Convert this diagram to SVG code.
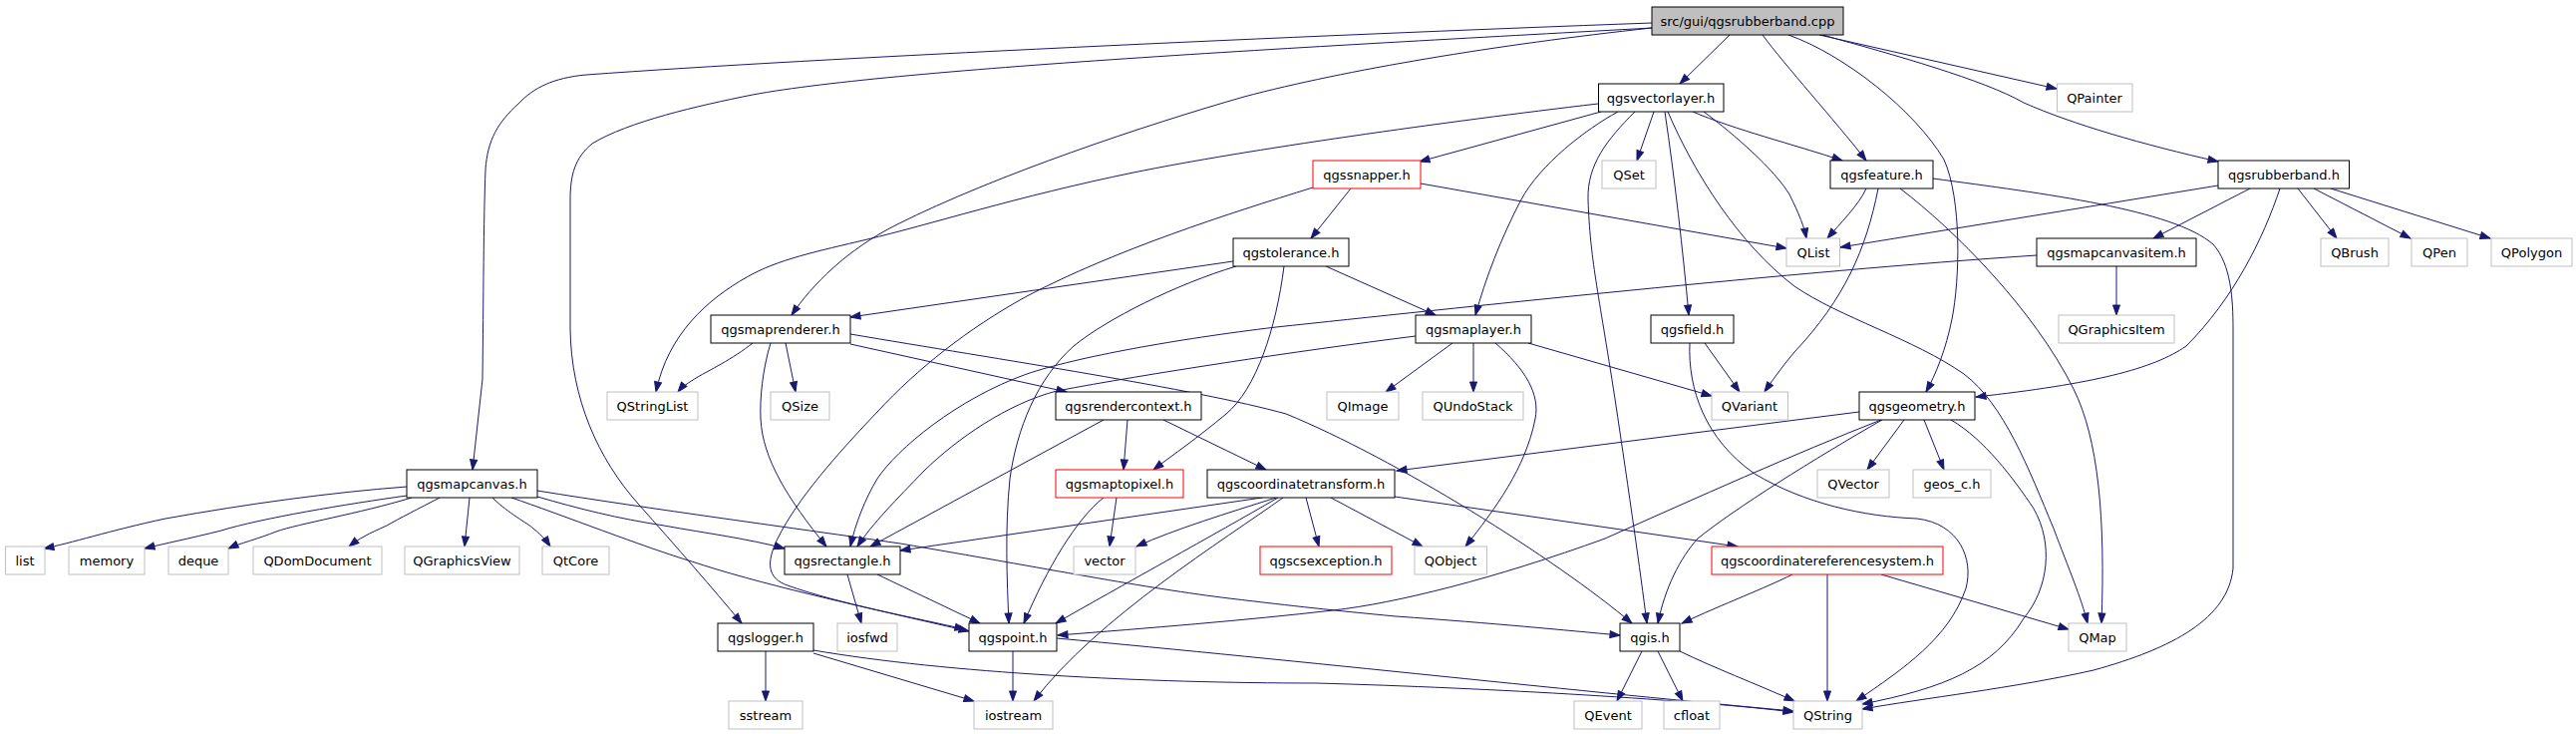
<svg xmlns="http://www.w3.org/2000/svg" width="2584" height="736" viewBox="0 0 2584 736">
<style>
.n rect{fill:#fff;stroke:#000;stroke-width:1}
.n.g rect{stroke:#bfbfbf}
.n.r rect{stroke:#ff0000}
.n.root rect{fill:#bfbfbf}
.n text{font-family:"DejaVu Sans","Liberation Sans",sans-serif;font-size:13px;text-anchor:middle;fill:#000}
#edges path{fill:none;stroke:#191970;stroke-width:1;marker-end:url(#a)}
</style>
<defs>
<marker id="a" markerUnits="userSpaceOnUse" markerWidth="11" markerHeight="8" refX="10" refY="3.5" orient="auto" overflow="visible">
<path d="M0,0 L10,3.5 L0,7 z" fill="#191970" stroke="#191970" stroke-width="1"/>
</marker>
</defs>
<rect width="2584" height="736" fill="#fff"/>
<g id="edges">
<path d="M1657,23 C1300,36 820,58 588,75 C555,78 535,88 520,104 C500,122 489,140 487,170 C485,220 485,300 484,380 L474,471"/>
<path d="M1657,28 C1350,45 900,68 755,95 C700,106 630,122 594,144 C577,158 572,175 572,200 L572,330 C573,400 600,460 640,505 C680,550 715,590 744,625"/>
<path d="M1657,28 C1500,45 1350,70 1248,97 C1150,125 1000,175 900,225 C850,250 815,285 794,316"/>
<path d="M1735,35 L1685,84"/>
<path d="M1768,35 C1790,65 1840,120 1872,161"/>
<path d="M1794,35 C1850,55 1920,110 1950,160 C1968,200 1966,280 1958,320 C1952,350 1942,375 1932,393"/>
<path d="M1825,35 L2063,89"/>
<path d="M1828,35 C1900,55 1990,80 2030,103 C2080,125 2150,145 2225,162"/>
<path d="M1603,104 C1450,122 1250,150 1137,173 C1020,197 930,226 870,240 C820,252 780,260 749,278 C710,300 670,335 658,393"/>
<path d="M1606,112 L1424,162"/>
<path d="M1623,112 C1590,130 1545,165 1526,200 C1505,240 1490,280 1480,316"/>
<path d="M1640,112 C1612,140 1592,165 1593,200 C1595,260 1603,290 1620,400 C1635,500 1645,570 1652,625"/>
<path d="M1659,112 L1642,161"/>
<path d="M1670,112 C1680,180 1688,250 1694,316"/>
<path d="M1673,112 C1700,175 1745,245 1800,287 C1845,318 1920,340 1970,375 C2010,405 2035,470 2060,530 C2075,570 2088,600 2094,625"/>
<path d="M1698,112 C1740,130 1800,145 1848,161"/>
<path d="M1709,112 C1740,135 1780,170 1795,195 C1805,215 1810,228 1812,239"/>
<path d="M1355,189 L1315,239"/>
<path d="M1425,184 L1792,249"/>
<path d="M1317,188 C1230,215 1120,250 1030,297 C970,330 920,370 880,413 C840,455 800,500 780,540 C768,565 770,580 790,587 C840,605 920,620 968,631"/>
<path d="M1237,262 L853,318"/>
<path d="M1330,267 L1440,316"/>
<path d="M1288,267 C1280,330 1260,390 1230,415 C1200,440 1178,455 1157,471"/>
<path d="M1240,267 C1180,285 1110,320 1077,347 C1040,380 1020,430 1013,480 C1008,530 1010,580 1012,625"/>
<path d="M755,344 C735,360 710,372 700,378 C690,384 684,388 680,393"/>
<path d="M788,344 L798,393"/>
<path d="M773,344 C765,370 762,400 763,420 C765,460 790,500 829,548"/>
<path d="M853,345 L1070,393"/>
<path d="M853,335 C1000,360 1200,390 1290,415 C1400,460 1560,560 1637,625"/>
<path d="M1420,337 C1300,352 1150,375 1060,392 C1010,405 960,440 927,472 C900,500 875,525 860,548"/>
<path d="M1457,344 L1390,393"/>
<path d="M1478,344 L1478,393"/>
<path d="M1500,344 C1530,370 1545,395 1540,420 C1530,470 1500,510 1470,548"/>
<path d="M1533,344 L1717,397"/>
<path d="M1710,344 L1745,393"/>
<path d="M1695,344 C1693,390 1710,440 1760,475 C1810,505 1870,518 1923,520 C1965,525 1980,560 1972,590 C1955,640 1910,670 1862,703"/>
<path d="M1872,189 C1865,205 1845,225 1833,239"/>
<path d="M1884,189 C1872,250 1850,300 1800,353 C1790,365 1780,378 1770,393"/>
<path d="M1906,189 C1960,230 2040,310 2080,390 C2105,440 2112,520 2108,625"/>
<path d="M1939,179 C2050,194 2180,210 2220,245 C2238,265 2240,300 2240,330 L2240,570 C2235,620 2180,650 2100,672 C2020,690 1930,700 1868,711"/>
<path d="M2225,186 L1846,248"/>
<path d="M2257,189 L2160,239"/>
<path d="M2287,189 C2270,240 2240,300 2193,347 C2160,370 2100,385 1982,398"/>
<path d="M2305,189 L2344,239"/>
<path d="M2321,189 L2418,239"/>
<path d="M2338,189 L2498,239"/>
<path d="M2123,267 L2123,316"/>
<path d="M2043,256 C1800,272 1450,310 1280,328 C1180,340 1080,358 1030,375 C960,400 900,450 880,480 C868,500 858,525 853,548"/>
<path d="M1131,421 L1127,471"/>
<path d="M1167,421 L1270,471"/>
<path d="M1107,421 L873,548"/>
<path d="M1120,499 L1113,548"/>
<path d="M1107,499 C1080,520 1050,570 1027,625"/>
<path d="M1266,499 L903,552"/>
<path d="M1280,499 C1230,515 1180,530 1140,548"/>
<path d="M1310,499 L1323,548"/>
<path d="M1335,499 L1427,548"/>
<path d="M1282,499 C1220,535 1120,590 1059,625"/>
<path d="M1287,499 C1230,540 1100,620 1037,703"/>
<path d="M1399,498 L1743,548"/>
<path d="M1865,413 L1401,472"/>
<path d="M1910,421 L1873,471"/>
<path d="M1930,421 L1950,471"/>
<path d="M1888,421 C1820,460 1740,510 1703,540 C1685,560 1670,590 1663,625"/>
<path d="M1887,421 C1800,455 1700,500 1610,540 C1500,580 1400,605 1337,612 C1250,622 1150,630 1061,637"/>
<path d="M1957,421 C1990,440 2020,480 2040,510 C2060,545 2055,590 2030,620 C2000,670 1950,690 1868,706"/>
<path d="M1798,576 C1770,590 1730,605 1687,625"/>
<path d="M1833,576 L1833,703"/>
<path d="M1887,576 L2075,631"/>
<path d="M408,488 C330,494 250,505 166,520 C110,532 70,545 44,550"/>
<path d="M408,497 C350,505 260,520 222,532 C190,540 165,545 145,550"/>
<path d="M413,499 C360,515 300,525 277,533 C260,540 240,545 229,550"/>
<path d="M441,499 C420,510 400,520 388,527 C370,535 360,540 350,548"/>
<path d="M471,499 L466,548"/>
<path d="M494,499 C510,515 530,525 535,530 C545,538 550,545 552,548"/>
<path d="M539,498 C580,510 620,520 666,527 C710,535 750,540 787,550"/>
<path d="M513,499 C560,515 650,550 694,563 C760,585 850,605 972,633"/>
<path d="M539,492 C650,510 800,530 903,545 C1050,570 1150,590 1233,600 C1300,608 1337,612 1400,618 C1500,625 1570,632 1625,637"/>
<path d="M850,576 L864,625"/>
<path d="M880,576 L983,625"/>
<path d="M768,653 L768,703"/>
<path d="M816,655 L977,703"/>
<path d="M816,652 C950,675 1150,685 1320,685 C1500,690 1700,702 1799,714"/>
<path d="M1016,653 L1016,703"/>
<path d="M1060,640 C1300,662 1600,695 1799,713"/>
<path d="M1647,653 L1622,703"/>
<path d="M1663,653 L1688,703"/>
<path d="M1685,653 C1720,670 1760,685 1800,703"/>
</g>
<g id="n-root" class="n root"><rect x="1657" y="7" width="192" height="28"/><text x="1753" y="26">src/gui/qgsrubberband.cpp</text></g>
<g id="n-qgsvectorlayer" class="n"><rect x="1603.5" y="84" width="125.5" height="28"/><text x="1666" y="103">qgsvectorlayer.h</text></g>
<g id="n-QPainter" class="n g"><rect x="2063.5" y="84" width="75.5" height="28"/><text x="2101" y="103">QPainter</text></g>
<g id="n-qgssnapper" class="n r"><rect x="1317" y="161" width="108" height="28"/><text x="1371" y="180">qgssnapper.h</text></g>
<g id="n-QSet" class="n g"><rect x="1607" y="161" width="54" height="28"/><text x="1634" y="180">QSet</text></g>
<g id="n-qgsfeature" class="n"><rect x="1836" y="161" width="103" height="28"/><text x="1887.5" y="180">qgsfeature.h</text></g>
<g id="n-qgsrubberband" class="n"><rect x="2225" y="161" width="131.5" height="28"/><text x="2291" y="180">qgsrubberband.h</text></g>
<g id="n-qgstolerance" class="n"><rect x="1237" y="239" width="116" height="28"/><text x="1295" y="258">qgstolerance.h</text></g>
<g id="n-QList" class="n g"><rect x="1792" y="239" width="53.5" height="28"/><text x="1819" y="258">QList</text></g>
<g id="n-qgsmapcanvasitem" class="n"><rect x="2043" y="239" width="160" height="28"/><text x="2123" y="258">qgsmapcanvasitem.h</text></g>
<g id="n-QBrush" class="n g"><rect x="2328" y="239" width="68" height="28"/><text x="2362" y="258">QBrush</text></g>
<g id="n-QPen" class="n g"><rect x="2419" y="239" width="56" height="28"/><text x="2447" y="258">QPen</text></g>
<g id="n-QPolygon" class="n g"><rect x="2499" y="239" width="81" height="28"/><text x="2539.5" y="258">QPolygon</text></g>
<g id="n-qgsmaprenderer" class="n"><rect x="713" y="316" width="140" height="28"/><text x="783" y="335">qgsmaprenderer.h</text></g>
<g id="n-qgsmaplayer" class="n"><rect x="1420" y="316" width="116" height="28"/><text x="1478" y="335">qgsmaplayer.h</text></g>
<g id="n-qgsfield" class="n"><rect x="1656" y="316" width="83" height="28"/><text x="1697.5" y="335">qgsfield.h</text></g>
<g id="n-QGraphicsItem" class="n g"><rect x="2065" y="316" width="116" height="28"/><text x="2123" y="335">QGraphicsItem</text></g>
<g id="n-QStringList" class="n g"><rect x="609" y="393" width="91" height="28"/><text x="654.5" y="412">QStringList</text></g>
<g id="n-QSize" class="n g"><rect x="773" y="393" width="59" height="28"/><text x="802.5" y="412">QSize</text></g>
<g id="n-qgsrendercontext" class="n"><rect x="1059" y="393" width="146" height="28"/><text x="1132" y="412">qgsrendercontext.h</text></g>
<g id="n-QImage" class="n g"><rect x="1331" y="393" width="72" height="28"/><text x="1367" y="412">QImage</text></g>
<g id="n-QUndoStack" class="n g"><rect x="1427" y="393" width="101" height="28"/><text x="1477.5" y="412">QUndoStack</text></g>
<g id="n-QVariant" class="n g"><rect x="1717" y="393" width="76.5" height="28"/><text x="1755" y="412">QVariant</text></g>
<g id="n-qgsgeometry" class="n"><rect x="1865" y="393" width="116" height="28"/><text x="1923" y="412">qgsgeometry.h</text></g>
<g id="n-qgsmapcanvas" class="n"><rect x="408" y="471" width="131" height="28"/><text x="473.5" y="490">qgsmapcanvas.h</text></g>
<g id="n-qgsmaptopixel" class="n r"><rect x="1059" y="471" width="128" height="28"/><text x="1123" y="490">qgsmaptopixel.h</text></g>
<g id="n-qgscoordinatetransform" class="n"><rect x="1211" y="471" width="188" height="28"/><text x="1305" y="490">qgscoordinatetransform.h</text></g>
<g id="n-QVector" class="n g"><rect x="1823" y="471" width="72" height="28"/><text x="1859" y="490">QVector</text></g>
<g id="n-geos_c" class="n g"><rect x="1919" y="471" width="78" height="28"/><text x="1958" y="490">geos_c.h</text></g>
<g id="n-list" class="n g"><rect x="5.5" y="548" width="39.5" height="28"/><text x="25" y="567">list</text></g>
<g id="n-memory" class="n g"><rect x="69" y="548" width="76" height="28"/><text x="107" y="567">memory</text></g>
<g id="n-deque" class="n g"><rect x="169" y="548" width="60" height="28"/><text x="199" y="567">deque</text></g>
<g id="n-QDomDocument" class="n g"><rect x="254" y="548" width="129" height="28"/><text x="318.5" y="567">QDomDocument</text></g>
<g id="n-QGraphicsView" class="n g"><rect x="406" y="548" width="115" height="28"/><text x="463.5" y="567">QGraphicsView</text></g>
<g id="n-QtCore" class="n g"><rect x="544" y="548" width="67" height="28"/><text x="577.5" y="567">QtCore</text></g>
<g id="n-qgsrectangle" class="n"><rect x="787" y="548" width="116" height="28"/><text x="845" y="567">qgsrectangle.h</text></g>
<g id="n-vector" class="n g"><rect x="1077" y="548" width="62" height="28"/><text x="1108" y="567">vector</text></g>
<g id="n-qgscsexception" class="n r"><rect x="1264" y="548" width="132" height="28"/><text x="1330" y="567">qgscsexception.h</text></g>
<g id="n-QObject" class="n g"><rect x="1419" y="548" width="72.5" height="28"/><text x="1455" y="567">QObject</text></g>
<g id="n-qgscoordinatereferencesystem" class="n r"><rect x="1717" y="548" width="232" height="28"/><text x="1833" y="567">qgscoordinatereferencesystem.h</text></g>
<g id="n-qgslogger" class="n"><rect x="720" y="625" width="96" height="28"/><text x="768" y="644">qgslogger.h</text></g>
<g id="n-iosfwd" class="n g"><rect x="840" y="625" width="60" height="28"/><text x="870" y="644">iosfwd</text></g>
<g id="n-qgspoint" class="n"><rect x="972" y="625" width="88" height="28"/><text x="1016" y="644">qgspoint.h</text></g>
<g id="n-qgis" class="n"><rect x="1625" y="625" width="60" height="28"/><text x="1655" y="644">qgis.h</text></g>
<g id="n-QMap" class="n g"><rect x="2075" y="625" width="58" height="28"/><text x="2104" y="644">QMap</text></g>
<g id="n-sstream" class="n g"><rect x="731" y="703" width="74" height="28"/><text x="768" y="722">sstream</text></g>
<g id="n-iostream" class="n g"><rect x="977" y="703" width="79" height="28"/><text x="1016.5" y="722">iostream</text></g>
<g id="n-QEvent" class="n g"><rect x="1579" y="703" width="68" height="28"/><text x="1613" y="722">QEvent</text></g>
<g id="n-cfloat" class="n g"><rect x="1669" y="703" width="56" height="28"/><text x="1697" y="722">cfloat</text></g>
<g id="n-QString" class="n g"><rect x="1799" y="703" width="69" height="28"/><text x="1833.5" y="722">QString</text></g>
</svg>
